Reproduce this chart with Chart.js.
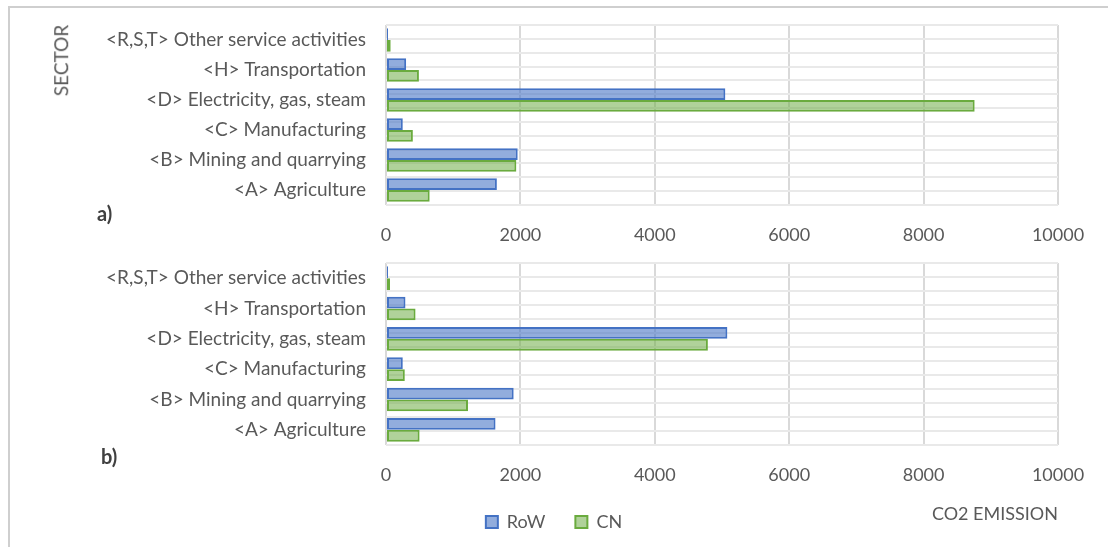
<!DOCTYPE html>
<html>
<head>
<meta charset="utf-8">
<script src="https://cdn.jsdelivr.net/npm/chart.js@4"></script>
<style>
  body { margin: 0; background: #fff; width: 1108px; height: 547px; overflow: hidden; position: relative; font-family: Lato, sans-serif; }
  .frame { position: absolute; left: 8px; top: 6px; width: 1200px; height: 600px; border-left: 2px solid #cfcfcf; border-top: 2px solid #cfcfcf; }
  .box { position: absolute; left: 0; width: 1108px; }
  .lbl { position: absolute; color: #595959; font-size: 18px; white-space: nowrap; }
  .tag { position: absolute; color: #404040; font-size: 20px; font-weight: bold; }
</style>
</head>
<body>
<div class="frame"></div>
<div class="box" style="top:0;height:250px"><canvas id="chartA"></canvas></div>
<div class="box" style="top:250px;height:297px"><canvas id="chartB"></canvas></div>
<div class="lbl" style="left:25px;top:49px;font-size:19px;transform:rotate(-90deg)">SECTOR</div>
<div class="tag" style="left:97px;top:201px">a)</div>
<div class="tag" style="left:101px;top:444px">b)</div>
<div class="lbl" style="right:50px;top:502px">CO2 EMISSION</div>

<script>
const sectors = ['<R,S,T> Other service activities', '<H> Transportation', '<D> Electricity, gas, steam',
  '<C> Manufacturing', '<B> Mining and quarrying', '<A> Agriculture'];
const xTicks = [0, 2000, 4000, 6000, 8000, 10000];

// a) emissions by sector
const rowA = [30, 300, 5050, 250, 1960, 1650];
const cnA  = [70, 490, 8760, 400, 1940, 650];

// b) emissions by sector
const rowB = [30, 290, 5080, 250, 1900, 1630];
const cnB  = [60, 440, 4790, 280, 1220, 500];

const textColor = '#595959';

function makeChart(id, row, cn, withLegend) {
  const ctx = document.getElementById(id).getContext('2d');
  return new Chart(ctx, {
    type: 'bar',
    data: {
      labels: sectors,
      datasets: [{
        label: 'RoW',
        data: row,
        backgroundColor: 'rgba(68, 114, 196, 0.58)',
        borderColor: '#4472c4',
        borderWidth: 2,
        borderSkipped: false
      },
      {
        label: 'CN',
        data: cn,
        backgroundColor: 'rgba(112, 173, 71, 0.55)',
        borderColor: '#6aab3e',
        borderWidth: 2,
        borderSkipped: false
      }]
    },
    options: {
      indexAxis: 'y',
      responsive: true,
      maintainAspectRatio: false,
      animation: false,
      categoryPercentage: 0.78,
      barPercentage: 1.0,
      layout: {
        padding: withLegend ? { top: 13, right: 50, left: 50, bottom: 6 } : { top: 25, right: 50, left: 50, bottom: 0 }
      },
      scales: {
        x: {
          min: 0,
          max: 10000,
          afterBuildTicks: axis => { axis.ticks = xTicks.map(v => ({ value: v })); },
          afterFit: axis => { axis.height = withLegend ? 38 : 45; },
          grid: { color: '#d9d9d9', lineWidth: 2, drawTicks: false },
          border: { display: false },
          ticks: { color: textColor, padding: 19, font: { family: 'Lato', size: 18 }, callback: v => String(v) }
        },
        y: {
          afterFit: axis => {
            axis.width = 336;
            axis.paddingTop = 0;
            axis.paddingBottom = 0;
          },
          grid: { display: false, drawTicks: false },
          border: { display: false },
          ticks: { color: textColor, padding: 20, font: { family: 'Lato', size: 19 } }
        },
        // one grid line at every bar edge, as in the original sheet
        yGrid: {
          type: 'linear',
          position: 'left',
          min: 0,
          max: 12,
          afterFit: axis => { axis.width = 0; },
          afterBuildTicks: axis => { axis.ticks = Array.from({ length: 13 }, (_, i) => ({ value: i })); },
          grid: { color: '#e9e9e9', lineWidth: 2, drawTicks: false },
          border: { display: false },
          ticks: { display: false }
        }
      },
      plugins: {
        legend: {
          display: withLegend,
          position: 'bottom',
          labels: {
            color: textColor,
            boxWidth: 12,
            boxHeight: 12,
            padding: 30,
            font: { family: 'Lato', size: 18 }
          }
        },
        tooltip: { enabled: false }
      }
    }
  });
}

makeChart('chartA', rowA, cnA, false);
makeChart('chartB', rowB, cnB, true);
</script>
</body>
</html>
